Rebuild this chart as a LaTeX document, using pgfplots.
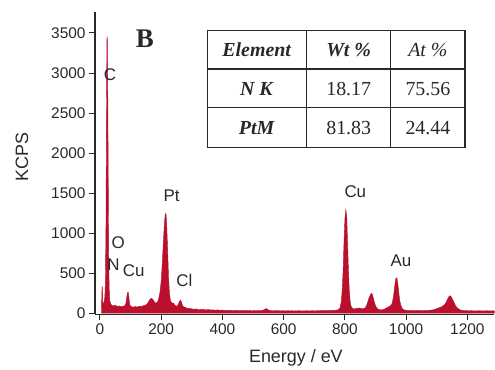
\documentclass[border=0pt]{standalone}
\usepackage{pgfplots}
\pgfplotsset{compat=1.18}
\usepackage{fontspec}
\setmainfont{Liberation Sans}
\newfontfamily\tnr{Liberation Serif}
\usepackage{array}
\definecolor{spec}{RGB}{186,16,46}
\definecolor{ax}{RGB}{40,40,40}
\pgfplotstableread{
E C
5 0
6 200
7 330
8 320
9 150
10 110
12 120
14 150
16 200
18 400
20 1200
21 2200
22 3000
23 3450
24 3440
25 3100
26 2500
27 1800
28 1100
29 600
30 350
31 220
32 160
34 130
36 110
38 100
40 95
44 88
48 100
52 92
56 88
60 82
64 90
68 78
72 85
76 80
80 90
84 110
86 150
88 210
90 255
92 265
94 220
96 150
98 100
100 85
105 78
110 74
115 82
120 76
125 80
130 86
135 84
140 90
145 96
150 102
155 118
160 150
164 175
168 185
172 175
176 150
180 130
184 125
188 140
192 180
196 260
200 400
204 650
208 950
211 1150
214 1245
216 1230
218 1100
221 800
224 450
227 250
230 160
234 130
238 125
241 125
244 100
248 90
252 85
256 110
260 150
263 160
266 140
270 90
275 75
280 70
285 60
290 55
295 58
300 52
305 50
310 48
315 52
320 45
325 44
330 47
335 42
340 44
345 40
350 42
355 45
360 40
365 38
370 41
375 37
380 38
385 40
390 36
395 35
400 37
406 34
412 36
418 32
424 35
430 33
436 31
442 34
448 32
454 30
460 33
466 31
472 29
478 32
484 30
490 31
496 28
502 31
508 29
514 30
520 32
526 30
532 35
538 48
543 55
548 45
554 32
560 30
566 28
572 31
578 29
584 30
590 27
596 30
602 29
608 27
614 30
620 28
626 30
632 27
638 29
644 28
650 30
656 27
662 29
668 28
674 30
680 28
686 27
692 30
698 29
704 28
710 30
716 29
722 31
728 30
734 32
740 31
746 33
752 32
758 34
764 33
770 36
775 38
780 45
784 65
788 140
791 280
794 520
797 880
800 1180
803 1295
806 1200
808 960
811 600
814 300
817 150
820 85
825 58
830 52
835 55
840 60
845 62
850 60
855 58
860 56
865 62
870 88
874 130
878 180
882 220
886 245
889 240
892 200
896 140
900 90
905 60
910 46
915 42
920 40
925 44
930 52
935 62
940 72
945 84
950 96
954 120
958 190
961 280
964 380
967 440
970 435
973 360
976 250
979 160
982 105
986 65
990 46
995 38
1000 35
1006 33
1012 32
1018 30
1024 31
1030 29
1036 31
1042 30
1048 32
1054 31
1060 33
1066 32
1072 35
1078 36
1084 38
1090 42
1095 48
1100 56
1105 62
1110 70
1115 78
1120 88
1125 105
1130 130
1134 165
1138 195
1141 212
1144 216
1147 205
1150 180
1153 160
1157 128
1161 95
1165 72
1170 55
1175 42
1180 36
1186 33
1192 31
1198 30
1204 28
1210 30
1216 29
1222 27
1228 29
1234 28
1240 30
1246 27
1252 29
1258 28
1264 30
1270 27
1276 29
1282 28
1288 28
}\spectrum
\begin{document}
\begin{tikzpicture}
\begin{axis}[
  scale only axis, width=399.6bp, height=302.3bp,
  xmin=-16, xmax=1288, ymin=-15, ymax=3760,
  axis lines=left,
  axis line style={-, line width=1.3bp, ax},
  xtick={0,200,...,1200}, ytick={0,500,...,3500},
  tick align=outside, major tick length=6bp,
  tick style={line width=1bp, ax},
  ticklabel style={font=\fontsize{15.5}{18}\selectfont, text=ax},
  /pgf/number format/assume math mode=true,
  /pgf/number format/1000 sep={},
  xlabel={Energy / eV}, ylabel={KCPS},
  label style={font=\fontsize{18}{21}\selectfont, text=ax},
  xlabel style={at={(axis description cs:0.503,-0.145)}, anchor=center},
  ylabel style={at={(axis description cs:-0.183,0.521)}, anchor=center},
  clip=false,
]
\addplot[fill=spec, draw=spec, line width=0.4bp] table[x=E, y=C] {\spectrum} \closedcycle;
\begin{scope}[every node/.style={font=\fontsize{17}{20}\selectfont, text=ax, inner sep=0pt}]
\node at (axis cs:32.6,2973) {C};
\node at (axis cs:59.8,880) {O};
\node at (axis cs:44.6,603) {N};
\node at (axis cs:110,531) {Cu};
\node at (axis cs:234,1467) {Pt};
\node at (axis cs:276,410) {Cl};
\node at (axis cs:834,1518) {Cu};
\node at (axis cs:983,655) {Au};
\end{scope}
\node[inner sep=0pt, text=ax] at (axis cs:147,3425) {\tnr\bfseries\fontsize{27}{30}\selectfont B};
\node[anchor=north west, inner sep=0pt, text=ax] at (axis cs:348,3546) {\tnr\fontsize{20}{24}\selectfont
\setlength\arrayrulewidth{1.3bp}\setlength\tabcolsep{0pt}%
\begin{tabular}{|>{\centering\arraybackslash}p{98bp}|>{\centering\arraybackslash}p{83bp}|>{\centering\arraybackslash}p{73bp}|}
\hline
\rule[-12bp]{0pt}{37.5bp}\textbf{\textit{Element}} & \textbf{\textit{Wt \%}} & \textit{At \%}\\ \hline
\rule[-12bp]{0pt}{37.5bp}\textbf{\textit{N K}} & 18.17 & 75.56\\ \hline
\rule[-12bp]{0pt}{38.5bp}\textbf{\textit{PtM}} & 81.83 & 24.44\\ \hline
\end{tabular}};
\end{axis}
\path[use as bounding box] (-95.1bp,-53.5bp) rectangle (399.9bp,314.5bp);
\end{tikzpicture}
\end{document}
